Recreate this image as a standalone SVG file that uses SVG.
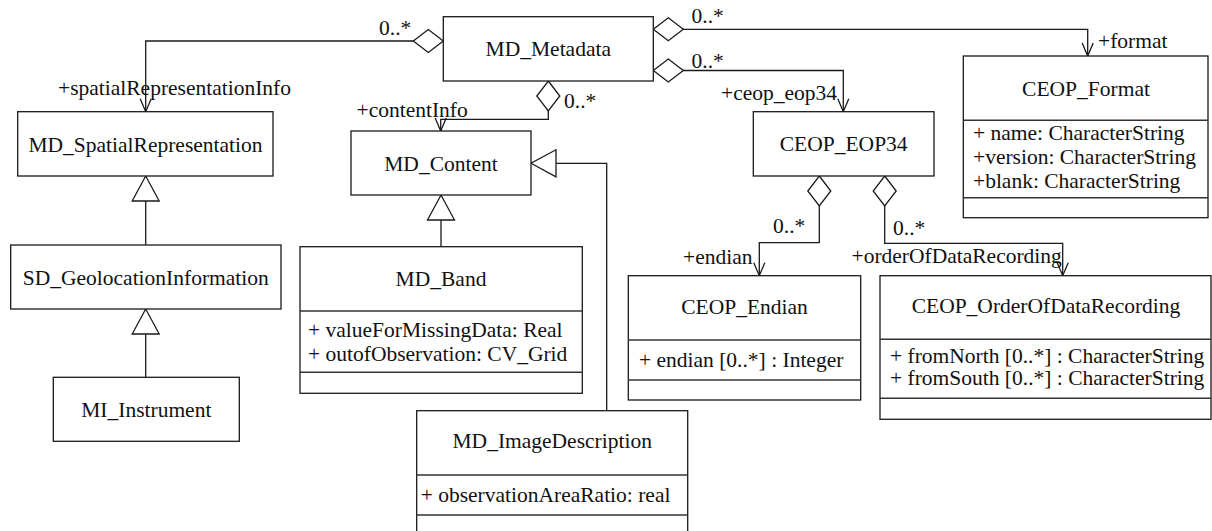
<svg xmlns="http://www.w3.org/2000/svg" width="1212" height="531" viewBox="0 0 1212 531">
<style>
text{font-family:"Liberation Serif","Times New Roman",serif;font-size:21.5px;fill:#111}
.t{text-anchor:middle}
.box{fill:#fff;stroke:#1a1a1a;stroke-width:1.3}
.div{stroke:#333;stroke-width:1.5}
.c{fill:none;stroke:#1a1a1a;stroke-width:1.3}
</style>
<defs>
<marker id="dia" markerUnits="userSpaceOnUse" markerWidth="40" markerHeight="40" refX="0" refY="0" orient="auto" overflow="visible" viewBox="-5 -20 40 40">
<path d="M0 0 L15 -11.5 L30 0 L15 11.5 Z" fill="#fff" stroke="#1a1a1a" stroke-width="1.3"/>
</marker>
<marker id="arr" markerUnits="userSpaceOnUse" markerWidth="30" markerHeight="30" refX="0" refY="0" orient="auto" overflow="visible" viewBox="-20 -15 30 30">
<path d="M-13 -5.5 L0 0 L-13 5.5" fill="none" stroke="#1a1a1a" stroke-width="1.3"/>
</marker>
<marker id="tri" markerUnits="userSpaceOnUse" markerWidth="40" markerHeight="40" refX="0" refY="0" orient="auto" overflow="visible" viewBox="-30 -20 40 40">
<path d="M0 0 L-25 -13.5 L-25 13.5 Z" fill="#fff" stroke="#1a1a1a" stroke-width="1.3"/>
</marker>
</defs>

<g id="connectors">
<path class="c" d="M443.3 41 H145.7 V111.7" marker-start="url(#dia)" marker-end="url(#arr)"/>
<path class="c" d="M653.3 29.3 H1087.7 V56" marker-start="url(#dia)" marker-end="url(#arr)"/>
<path class="c" d="M653.3 70.5 H843.3 V111.7" marker-start="url(#dia)" marker-end="url(#arr)"/>
<path class="c" d="M548.3 81 V119.3 H440.7 V131" marker-start="url(#dia)" marker-end="url(#arr)"/>
<path class="c" d="M606.7 410.7 V163.3 H531" marker-end="url(#tri)"/>
<path class="c" d="M441 246.7 V195" marker-end="url(#tri)"/>
<path class="c" d="M145.7 245 V176" marker-end="url(#tri)"/>
<path class="c" d="M145.7 377.3 V309" marker-end="url(#tri)"/>
<path class="c" d="M819.3 176 V242.7 H759.3 V275.7" marker-start="url(#dia)" marker-end="url(#arr)"/>
<path class="c" d="M884.7 176 V243.3 H1062.7 V275.7" marker-start="url(#dia)" marker-end="url(#arr)"/>
<text x="379" y="35">0..*</text>
<text x="58" y="95">+spatialRepresentationInfo</text>
<text x="356.5" y="117">+contentInfo</text>
<text x="564" y="108">0..*</text>
<text x="691.5" y="23">0..*</text>
<text x="691.5" y="68">0..*</text>
<text x="721" y="100">+ceop_eop34</text>
<text x="1098" y="48">+format</text>
<text x="773" y="232.5">0..*</text>
<text x="893" y="235">0..*</text>
<text x="683" y="264">+endian</text>
<text x="851.5" y="263">+orderOfDataRecording</text>
</g>

<g id="MD_Metadata">
<rect class="box" x="443.3" y="16.7" width="210" height="64.3"/>
<text class="t" x="548.3" y="56">MD_Metadata</text>
</g>

<g id="MD_SpatialRepresentation">
<rect class="box" x="17.7" y="111.7" width="255.3" height="64.3"/>
<text class="t" x="145.5" y="151.5">MD_SpatialRepresentation</text>
</g>

<g id="SD_GeolocationInformation">
<rect class="box" x="10.7" y="245" width="270.3" height="64"/>
<text class="t" x="145.8" y="284.5">SD_GeolocationInformation</text>
</g>

<g id="MI_Instrument">
<rect class="box" x="53.3" y="377.3" width="186" height="64"/>
<text class="t" x="146.3" y="416.7">MI_Instrument</text>
</g>

<g id="MD_Content">
<rect class="box" x="351" y="131" width="180" height="64"/>
<text class="t" x="441" y="170.5">MD_Content</text>
</g>

<g id="MD_Band">
<rect class="box" x="300" y="246.7" width="282.3" height="146.6"/>
<line class="div" x1="300" y1="311" x2="582.3" y2="311"/>
<line class="div" x1="300" y1="372.3" x2="582.3" y2="372.3"/>
<text class="t" x="441" y="285.5">MD_Band</text>
<text x="308" y="336.7">+ valueForMissingData: Real</text>
<text x="308" y="361">+ outofObservation: CV_Grid</text>
</g>

<g id="MD_ImageDescription">
<rect class="box" x="416.7" y="410.7" width="271" height="125"/>
<line class="div" x1="416.7" y1="475" x2="687.7" y2="475"/>
<line class="div" x1="416.7" y1="515" x2="687.7" y2="515"/>
<text class="t" x="552.2" y="448.3">MD_ImageDescription</text>
<text x="420.7" y="501.7">+ observationAreaRatio: real</text>
</g>

<g id="CEOP_EOP34">
<rect class="box" x="753.3" y="111.7" width="180.7" height="64.3"/>
<text class="t" x="843.7" y="151">CEOP_EOP34</text>
</g>

<g id="CEOP_Format">
<rect class="box" x="963.3" y="56" width="244.7" height="161.7"/>
<line class="div" x1="963.3" y1="120.3" x2="1208" y2="120.3"/>
<line class="div" x1="963.3" y1="197.7" x2="1208" y2="197.7"/>
<text class="t" x="1086" y="96">CEOP_Format</text>
<text x="973" y="140">+ name: CharacterString</text>
<text x="973" y="164">+version: CharacterString</text>
<text x="973" y="188">+blank: CharacterString</text>
</g>

<g id="CEOP_Endian">
<rect class="box" x="628.3" y="275.7" width="232.4" height="124.3"/>
<line class="div" x1="628.3" y1="340" x2="860.7" y2="340"/>
<line class="div" x1="628.3" y1="380" x2="860.7" y2="380"/>
<text class="t" x="744.5" y="314">CEOP_Endian</text>
<text x="639" y="366.7">+ endian [0..*] : Integer</text>
</g>

<g id="CEOP_OrderOfDataRecording">
<rect class="box" x="880" y="275.7" width="331" height="143.6"/>
<line class="div" x1="880" y1="339.3" x2="1211" y2="339.3"/>
<line class="div" x1="880" y1="398.3" x2="1211" y2="398.3"/>
<text class="t" x="1046" y="313">CEOP_OrderOfDataRecording</text>
<text x="890" y="363.3">+ fromNorth [0..*] : CharacterString</text>
<text x="890" y="385">+ fromSouth [0..*] : CharacterString</text>
</g>
</svg>
